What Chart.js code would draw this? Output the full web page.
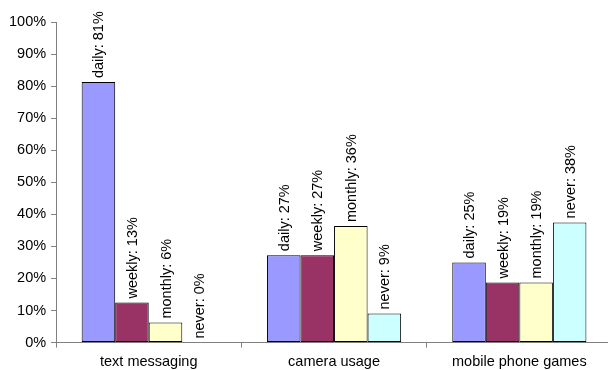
<!DOCTYPE html>
<html>
<head>
<meta charset="utf-8">
<script src="https://cdn.jsdelivr.net/npm/chart.js@4/dist/chart.umd.min.js"></script>
<style>
  html, body { margin: 0; padding: 0; background: #fff; overflow: hidden; }
  #wrap { width: 612px; height: 377px; }
</style>
</head>
<body>
<div id="wrap"><canvas id="myChart"></canvas></div>
<script>
const categories = ["text messaging", "camera usage", "mobile phone games"];
const daily = [81.25, 27.27, 25];
const weekly = [12.5, 27.27, 18.75];
const monthly = [6.25, 36.36, 18.75];
const never = [0, 9.09, 37.5];
const yTicks = [0, 10, 20, 30, 40, 50, 60, 70, 80, 90, 100];

const font = { family: "Liberation Sans, Arial, sans-serif", size: 14.5 };

// rotated value labels above each bar
const barLabels = {
  id: "barLabels",
  afterDatasetsDraw(chart) {
    const ctx = chart.ctx;
    chart.data.datasets.forEach((ds, i) => {
      const meta = chart.getDatasetMeta(i);
      meta.data.forEach((bar, j) => {
        ctx.save();
        ctx.translate(bar.x + 1, bar.y - 4);
        ctx.rotate(-Math.PI / 2);
        ctx.font = font.size + "px " + font.family;
        ctx.fillStyle = "#000";
        ctx.textAlign = "left";
        ctx.textBaseline = "middle";
        ctx.fillText(ds.label + ": " + Math.round(ds.data[j]) + "%", 0, 0);
        ctx.restore();
      });
    });
  },
};

const ctx = document.getElementById("myChart");
new Chart(ctx, {
  type: "bar",
  data: {
    labels: categories,
    datasets: [
      { label: "daily", data: daily, backgroundColor: "#9999FF" },
      { label: "weekly", data: weekly, backgroundColor: "#993366" },
      { label: "monthly", data: monthly, backgroundColor: "#FFFFCC" },
      { label: "never", data: never, backgroundColor: "#CCFFFF" },
    ].map((d) => ({
      ...d,
      borderColor: "#000",
      borderWidth: 1,
      borderSkipped: false,
      categoryPercentage: 0.724,
      barPercentage: 1.0,
    })),
  },
  options: {
    responsive: true,
    maintainAspectRatio: false,
    animation: false,
    layout: { padding: { top: 22, left: 4, right: 0, bottom: 0 } },
    plugins: { legend: { display: false }, tooltip: { enabled: false } },
    scales: {
      x: {
        border: { color: "#808080", width: 1 },
        grid: { drawOnChartArea: false, drawTicks: true, tickLength: 5, color: "#808080" },
        ticks: { color: "#000", font: font, padding: 6, maxRotation: 0 },
      },
      y: {
        min: 0,
        max: 100,
        afterBuildTicks(scale) {
          scale.ticks = yTicks.map((v) => ({ value: v }));
        },
        border: { color: "#808080", width: 1 },
        grid: { drawOnChartArea: false, drawTicks: true, tickLength: 5, color: "#808080" },
        ticks: {
          color: "#000",
          font: font,
          padding: 5,
          callback: (v) => v + "%",
        },
      },
    },
  },
  plugins: [barLabels],
});
</script>
</body>
</html>
